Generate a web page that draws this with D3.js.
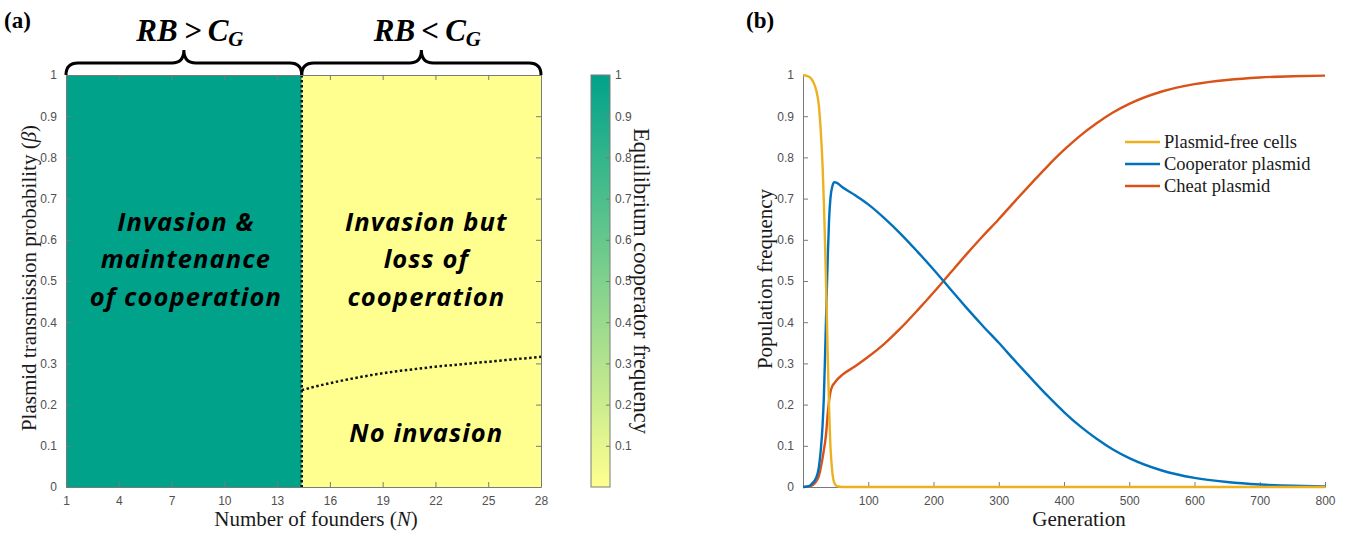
<!DOCTYPE html>
<html><head><meta charset="utf-8">
<script src="https://cdn.jsdelivr.net/npm/d3@7"></script>
<style>body{margin:0;background:#fff}</style>
</head><body><svg id="c" width="1351" height="534"></svg>
<script>
// ---------- data: panel (a) ----------
const founderTicks = [1, 4, 7, 10, 13, 16, 19, 22, 25, 28];
const betaTicks = [0, 0.1, 0.2, 0.3, 0.4, 0.5, 0.6, 0.7, 0.8, 0.9, 1];
const regionBounds = [1, 14.4, 28];          // founder number boundaries
const regionFreq = [1, 0];                    // equilibrium cooperator frequency per region
const thresholdN = [14.4, 15, 16, 17, 18, 19, 20, 21, 22, 23, 24, 25, 26, 27, 28];
const thresholdBeta = [0.235, 0.242, 0.252, 0.261, 0.269, 0.276, 0.282, 0.287, 0.292, 0.296, 0.300, 0.304, 0.308, 0.312, 0.316];
const colorbarTicks = [0.1, 0.2, 0.3, 0.4, 0.5, 0.6, 0.7, 0.8, 0.9, 1];
const braceLabels = [["RB\u2009>\u2009C", "G"], ["RB\u2009<\u2009C", "G"]];

// ---------- data: panel (b) ----------
const generations = [0, 10, 15, 20, 24, 27, 30, 32, 34, 36, 38, 40, 42, 45, 48, 52, 60, 80, 100, 125, 150, 175, 200, 225, 250, 275, 300, 325, 350, 375, 400, 425, 450, 475, 500, 550, 600, 650, 700, 750, 800];
const plasmidFree = [1, 0.995, 0.985, 0.965, 0.93, 0.87, 0.78, 0.69, 0.58, 0.45, 0.31, 0.19, 0.1, 0.035, 0.01, 0.002, 0, 0, 0, 0, 0, 0, 0, 0, 0, 0, 0, 0, 0, 0, 0, 0, 0, 0, 0, 0, 0, 0, 0, 0, 0];
const cooperator = [0, 0.003, 0.01, 0.022, 0.045, 0.085, 0.15, 0.22, 0.33, 0.45, 0.56, 0.65, 0.70, 0.73, 0.74, 0.738, 0.728, 0.708, 0.686, 0.652, 0.614, 0.572, 0.528, 0.482, 0.436, 0.392, 0.350, 0.306, 0.263, 0.221, 0.182, 0.147, 0.117, 0.091, 0.070, 0.040, 0.022, 0.012, 0.006, 0.003, 0.0015];
const cheat = [0, 0.002, 0.005, 0.013, 0.025, 0.045, 0.07, 0.09, 0.11, 0.14, 0.18, 0.21, 0.23, 0.245, 0.252, 0.26, 0.272, 0.293, 0.316, 0.348, 0.386, 0.428, 0.472, 0.518, 0.564, 0.608, 0.650, 0.694, 0.737, 0.779, 0.818, 0.853, 0.883, 0.909, 0.930, 0.960, 0.978, 0.988, 0.994, 0.997, 0.9985];
const genTicks = [100, 200, 300, 400, 500, 600, 700, 800];
const freqTicks = [0, 0.1, 0.2, 0.3, 0.4, 0.5, 0.6, 0.7, 0.8, 0.9, 1];
const seriesNames = ["Plasmid-free cells", "Cooperator plasmid", "Cheat plasmid"];
const seriesColors = ["#EDB120", "#0072BD", "#D95319"];

// ---------- drawing ----------
const svg = d3.select("#c");
const sans = "'Liberation Sans', Arial, sans-serif";
const serif = "'Liberation Serif', 'Times New Roman', serif";
const axisGray = "#7a7a7a";
const tickText = "#505050";

function styleAxis(g) {
  g.select(".domain").attr("stroke", axisGray).attr("stroke-width", 1);
  g.selectAll(".tick line").attr("stroke", axisGray);
  g.selectAll(".tick text").attr("fill", tickText).style("font-family", sans).style("font-size", "12px");
}
const fmt = d => d3.format("")(d);

// panel (a)
const xA = d3.scaleLinear().domain([1, 28]).range([66, 541]);
const yA = d3.scaleLinear().domain([0, 1]).range([487, 75]);
const color = d3.scaleLinear().domain([0, 1]).range(["#FFFF8F", "#00A28A"]);

const gA = svg.append("g");
regionFreq.forEach((v, i) => {
  gA.append("rect")
    .attr("x", xA(regionBounds[i])).attr("y", yA(1))
    .attr("width", xA(regionBounds[i + 1]) - xA(regionBounds[i]))
    .attr("height", yA(0) - yA(1))
    .attr("fill", color(v));
});

// dotted boundaries
gA.append("line")
  .attr("x1", xA(regionBounds[1])).attr("x2", xA(regionBounds[1]))
  .attr("y1", yA(1)).attr("y2", yA(0))
  .attr("stroke", "#111").attr("stroke-width", 2.5).attr("stroke-dasharray", "2.5,2.5");
gA.append("path")
  .datum(thresholdN.map((n, i) => [n, thresholdBeta[i]]))
  .attr("d", d3.line().x(d => xA(d[0])).y(d => yA(d[1])).curve(d3.curveMonotoneX))
  .attr("fill", "none").attr("stroke", "#111").attr("stroke-width", 2.5).attr("stroke-dasharray", "2.5,2.5");

// axes (ticks inward, boxed)
gA.append("g").attr("transform", `translate(0,${yA(0)})`)
  .call(d3.axisBottom(xA).tickValues(founderTicks).tickSize(-5).tickSizeOuter(0).tickPadding(9).tickFormat(fmt)).call(styleAxis);
gA.append("g").attr("transform", `translate(${xA(1)},0)`)
  .call(d3.axisLeft(yA).tickValues(betaTicks).tickSize(-5).tickSizeOuter(0).tickPadding(9).tickFormat(fmt)).call(styleAxis);
gA.append("g").attr("transform", `translate(0,${yA(1)})`)
  .call(d3.axisTop(xA).tickValues(founderTicks).tickSize(-5).tickSizeOuter(0).tickFormat("")).call(styleAxis);
gA.append("g").attr("transform", `translate(${xA(28)},0)`)
  .call(d3.axisRight(yA).tickValues(betaTicks).tickSize(-5).tickSizeOuter(0).tickFormat("")).call(styleAxis);

// region annotations
const annFont = "'Open Sans', 'Lato', sans-serif";
function ann(lines, cx, baselines) {
  lines.forEach((t, i) => {
    gA.append("text").attr("x", cx).attr("y", baselines[i]).attr("text-anchor", "middle")
      .style("font-family", annFont).style("font-weight", "bold").style("font-style", "italic")
      .style("font-size", "25.5px").style("letter-spacing", "1.1px").attr("fill", "#000").text(t);
  });
}
const leftC = (xA(regionBounds[0]) + xA(regionBounds[1])) / 2;
const rightC = (xA(regionBounds[1]) + xA(regionBounds[2])) / 2;
ann(["Invasion &", "maintenance", "of cooperation"], leftC + 2, [231, 268, 306]);
ann(["Invasion but", "loss of", "cooperation"], rightC + 5, [231, 268, 306]);
ann(["No invasion"], rightC + 5, [442]);

// braces
function brace(x0, x1) {
  const yb = yA(1), yt = 63, yc = 50, r = 12, m = (x0 + x1) / 2;
  return `M${x0},${yb} Q${x0},${yt} ${x0 + r},${yt} L${m - r},${yt} Q${m},${yt} ${m},${yc} Q${m},${yt} ${m + r},${yt} L${x1 - r},${yt} Q${x1},${yt} ${x1},${yb}`;
}
braceLabels.forEach((lab, i) => {
  const x0 = xA(regionBounds[i]), x1 = xA(regionBounds[i + 1]);
  gA.append("path").attr("d", brace(x0, x1)).attr("fill", "none").attr("stroke", "#000").attr("stroke-width", 3);
  const t = gA.append("text").attr("x", (x0 + x1) / 2 + 6).attr("y", 41).attr("text-anchor", "middle")
    .style("font-family", serif).style("font-weight", "bold").style("font-style", "italic").style("font-size", "31px")
    .attr("fill", "#000");
  t.append("tspan").text(lab[0]);
  t.append("tspan").attr("dy", 5).style("font-size", "21px").text(lab[1]);
});

// axis titles (a)
const tA = gA.append("text").attr("x", 316).attr("y", 526).attr("text-anchor", "middle")
  .style("font-family", serif).style("font-size", "21px").attr("fill", "#1a1a1a");
tA.append("tspan").text("Number of founders (");
tA.append("tspan").style("font-style", "italic").text("N");
tA.append("tspan").text(")");
const tAy = gA.append("text").attr("transform", `translate(36,${(yA(0) + yA(1)) / 2 - 3}) rotate(-90)`).attr("text-anchor", "middle")
  .style("font-family", serif).style("font-size", "21px").attr("fill", "#1a1a1a");
tAy.append("tspan").text("Plasmid transmission probability (");
tAy.append("tspan").style("font-style", "italic").text("β");
tAy.append("tspan").text(")");

// colorbar
const cbX = 591, cbW = 19;
const defs = svg.append("defs");
const grad = defs.append("linearGradient").attr("id", "cbg").attr("x1", 0).attr("y1", 1).attr("x2", 0).attr("y2", 0);
d3.range(0, 1.0001, 0.1).forEach(v => grad.append("stop").attr("offset", v).attr("stop-color", color(v)));
const cbScale = d3.scaleLinear().domain([0, 1]).range([487, 75]);
svg.append("rect").attr("x", cbX).attr("y", cbScale(1)).attr("width", cbW).attr("height", cbScale(0) - cbScale(1))
  .attr("fill", "url(#cbg)").attr("stroke", axisGray).attr("stroke-width", 1);
svg.append("g").attr("transform", `translate(${cbX + cbW},0)`)
  .call(d3.axisRight(cbScale).tickValues(colorbarTicks).tickSize(-4).tickSizeOuter(0).tickPadding(5).tickFormat(fmt))
  .call(styleAxis).call(g => g.select(".domain").remove());
svg.append("text").attr("transform", `translate(634,${(cbScale(0) + cbScale(1)) / 2}) rotate(90)`).attr("text-anchor", "middle")
  .style("font-family", serif).style("font-size", "22.5px").attr("fill", "#1a1a1a")
  .text("Equilibrium cooperator frequency");

// panel labels
svg.append("text").attr("x", 4).attr("y", 28).style("font-family", serif).style("font-weight", "bold")
  .style("font-size", "23px").attr("fill", "#000").text("(a)");
svg.append("text").attr("x", 746).attr("y", 28).style("font-family", serif).style("font-weight", "bold")
  .style("font-size", "23px").attr("fill", "#000").text("(b)");

// panel (b)
const xB = d3.scaleLinear().domain([0, 800]).range([803, 1325]);
const yB = d3.scaleLinear().domain([0, 1]).range([487, 75]);
const gB = svg.append("g");
gB.append("g").attr("transform", `translate(0,${yB(0)})`)
  .call(d3.axisBottom(xB).tickValues(genTicks).tickSize(-5).tickSizeOuter(0).tickPadding(9).tickFormat(fmt)).call(styleAxis);
gB.append("g").attr("transform", `translate(${xB(0)},0)`)
  .call(d3.axisLeft(yB).tickValues(freqTicks).tickSize(-5).tickSizeOuter(0).tickPadding(9).tickFormat(fmt)).call(styleAxis);

const seriesData = [plasmidFree, cooperator, cheat];
const lineGen = d3.line().x(d => xB(d[0])).y(d => yB(d[1])).curve(d3.curveMonotoneX);
[2, 1, 0].forEach(s => {
  gB.append("path").datum(generations.map((g, i) => [g, seriesData[s][i]]))
    .attr("d", lineGen).attr("fill", "none").attr("stroke", seriesColors[s]).attr("stroke-width", 2.4);
});

// legend
const legY = [142, 164, 186];
seriesNames.forEach((n, i) => {
  gB.append("line").attr("x1", 1125).attr("x2", 1160).attr("y1", legY[i]).attr("y2", legY[i])
    .attr("stroke", seriesColors[i]).attr("stroke-width", 2.4);
  gB.append("text").attr("x", 1164).attr("y", legY[i] + 6)
    .style("font-family", serif).style("font-size", "18.5px").attr("fill", "#1a1a1a").text(n);
});

// axis titles (b)
gB.append("text").attr("x", 1079).attr("y", 526).attr("text-anchor", "middle")
  .style("font-family", serif).style("font-size", "21px").attr("fill", "#1a1a1a").text("Generation");
gB.append("text").attr("transform", `translate(772,${(yB(0) + yB(1)) / 2 - 2}) rotate(-90)`).attr("text-anchor", "middle")
  .style("font-family", serif).style("font-size", "21px").attr("fill", "#1a1a1a").text("Population frequency");
</script></body></html>
